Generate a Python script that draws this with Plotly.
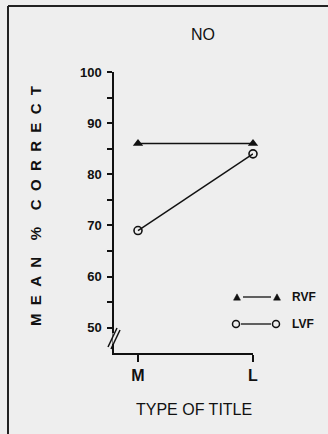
import plotly.graph_objects as go

categories = ["M", "L"]
rvf = [86, 86]
lvf = [69, 84]
y_ticks = [50, 60, 70, 80, 90, 100]
y_ticklabels = ["50", "60", "70", "80", "90", "100"]

W, H = 328, 434
L_M, R_M, T_M, B_M = 114, 75, 72, 81
PW = W - L_M - R_M
PH = H - T_M - B_M

def px(x):
    return (x - L_M) / PW

def py(y):
    return (H - B_M - y) / PH

BG = "#eeeeee"
INK = "#111111"
FONT = "Liberation Sans"

fig = go.Figure()
fig.add_trace(go.Scatter(
    x=categories, y=rvf, mode="lines+markers", name="RVF",
    line=dict(color=INK, width=1.5),
    marker=dict(symbol="triangle-up", size=9, color=INK),
    cliponaxis=False, showlegend=False))
fig.add_trace(go.Scatter(
    x=categories, y=lvf, mode="lines+markers", name="LVF",
    line=dict(color=INK, width=1.5),
    marker=dict(symbol="circle-open", size=8, color=INK, line=dict(width=1.6, color=INK)),
    cliponaxis=False, showlegend=False))

shapes = []
# frame lines
shapes.append(dict(type="line", xref="paper", yref="paper", x0=px(8), x1=px(330), y0=py(6), y1=py(6),
                   line=dict(color="#222222", width=2)))
shapes.append(dict(type="line", xref="paper", yref="paper", x0=px(8), x1=px(8), y0=py(6), y1=py(440),
                   line=dict(color="#222222", width=2)))
# axis break
shapes.append(dict(type="line", xref="paper", yref="paper", x0=px(114), x1=px(114), y0=py(333), y1=py(344),
                   line=dict(color=BG, width=3)))
shapes.append(dict(type="line", xref="paper", yref="paper", x0=px(108), x1=px(117), y0=py(347), y1=py(328),
                   line=dict(color=INK, width=1.5)))
shapes.append(dict(type="line", xref="paper", yref="paper", x0=px(111), x1=px(120), y0=py(349), y1=py(330),
                   line=dict(color=INK, width=1.5)))

# legend samples
def tri(cx, cy, s=7):
    h = s * 0.9
    return dict(type="path", xref="paper", yref="paper",
                path=f"M {px(cx - s/2)} {py(cy + h/2)} L {px(cx + s/2)} {py(cy + h/2)} L {px(cx)} {py(cy - h/2)} Z",
                fillcolor=INK, line=dict(color=INK, width=0.5))

def circ(cx, cy, r=3.5):
    return dict(type="circle", xref="paper", yref="paper",
                x0=px(cx - r), x1=px(cx + r), y0=py(cy + r), y1=py(cy - r),
                line=dict(color=INK, width=1.5))

shapes.append(tri(237, 297))
shapes.append(tri(277, 297))
shapes.append(dict(type="line", xref="paper", yref="paper", x0=px(243), x1=px(271), y0=py(297), y1=py(297),
                   line=dict(color=INK, width=1.3)))
shapes.append(circ(236, 324))
shapes.append(circ(276, 324))
shapes.append(dict(type="line", xref="paper", yref="paper", x0=px(241), x1=px(271), y0=py(324), y1=py(324),
                   line=dict(color=INK, width=1.3)))

NB = "\u00a0"
ylabel = (NB * 2).join(["M", "E", "A", "N"]) + NB * 4 + "%" + NB * 4 + (NB * 2).join(list("CORRECT"))

annotations = [
    dict(text="NO", x=px(203), y=py(34), xref="paper", yref="paper", showarrow=False,
         font=dict(family=FONT, size=16, color=INK), xanchor="center", yanchor="middle"),
    dict(text="TYPE OF TITLE", x=px(194), y=py(409), xref="paper", yref="paper", showarrow=False,
         font=dict(family=FONT, size=16, color=INK), xanchor="center", yanchor="middle"),
    dict(text=ylabel,
         x=px(35), y=py(206), xref="paper", yref="paper", showarrow=False, textangle=-90,
         font=dict(family=FONT, size=15, color=INK, weight="bold"), xanchor="center", yanchor="middle"),
    dict(text="RVF", x=px(290), y=py(297), xref="paper", yref="paper", showarrow=False,
         font=dict(family=FONT, size=12, color=INK, weight="bold"), xanchor="left", yanchor="middle"),
    dict(text="LVF", x=px(290), y=py(324), xref="paper", yref="paper", showarrow=False,
         font=dict(family=FONT, size=12, color=INK, weight="bold"), xanchor="left", yanchor="middle"),
]

fig.update_layout(
    width=W, height=H, autosize=False,
    margin=dict(l=L_M, r=R_M, t=T_M, b=B_M, pad=0),
    paper_bgcolor=BG, plot_bgcolor=BG,
    shapes=shapes, annotations=annotations,
    xaxis=dict(type="category", categoryorder="array", categoryarray=categories,
               range=[-0.2087, 1.0], showgrid=False, zeroline=False,
               showline=True, linecolor=INK, linewidth=1.5,
               ticks="outside", ticklen=7, tickwidth=1.5, tickcolor=INK,
               tickfont=dict(family=FONT, size=16, color=INK, weight="bold")),
    yaxis=dict(range=[45.06, 100], showgrid=False, zeroline=False,
               showline=True, linecolor=INK, linewidth=1.5,
               tickvals=y_ticks, ticktext=y_ticklabels,
               ticks="outside", ticklen=5, tickwidth=1.5, tickcolor=INK, ticklabelstandoff=3,
               minor=dict(dtick=5, tick0=0, ticks="outside", ticklen=5, tickwidth=1.5, tickcolor=INK, showgrid=False),
               tickfont=dict(family=FONT, size=13, color=INK, weight="bold")),
)

fig.write_html("out.html", config={"displayModeBar": False},
               post_script="document.body.style.margin='0';document.body.style.background='#eeeeee';")
